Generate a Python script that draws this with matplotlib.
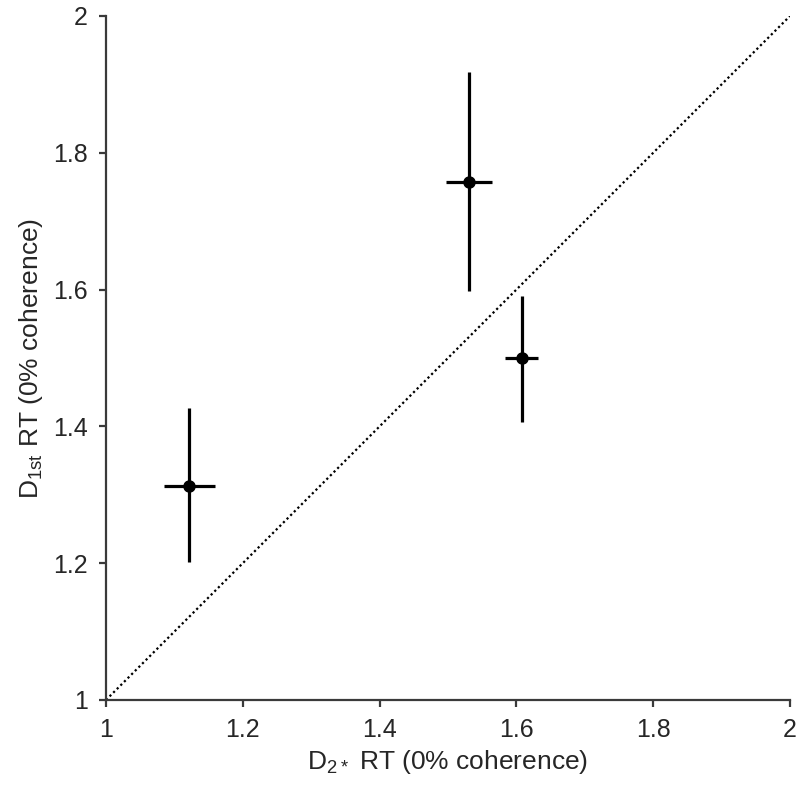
import numpy as np
import matplotlib.pyplot as plt

# ── Data ──────────────────────────────────────────────────────────────────────
x_rt = [1.122, 1.531, 1.608]
y_rt = [1.313, 1.758, 1.500]
x_lo = [1.085, 1.497, 1.583]
x_hi = [1.159, 1.564, 1.632]
y_lo = [1.202, 1.598, 1.407]
y_hi = [1.427, 1.918, 1.591]

x_ticks = [1, 1.2, 1.4, 1.6, 1.8, 2]
y_ticks = [1, 1.2, 1.4, 1.6, 1.8, 2]

plt.rcParams["font.family"] = ["Liberation Sans", "DejaVu Sans"]

fig = plt.figure(figsize=(8, 7.92), dpi=100)
ax = fig.add_axes([0.1325, 0.1162, 0.855, 0.8636])

# identity line
ax.plot([1, 2], [1, 2], color="black", linestyle=(0, (1, 1.3)), linewidth=1.6, zorder=1)

x_err = [np.array(x_rt) - np.array(x_lo), np.array(x_hi) - np.array(x_rt)]
y_err = [np.array(y_rt) - np.array(y_lo), np.array(y_hi) - np.array(y_rt)]
ax.errorbar(x_rt, y_rt, xerr=x_err, yerr=y_err, fmt="o", color="black",
            markersize=8, elinewidth=2.3, capsize=0, zorder=3)

ax.set_xlim(1, 2)
ax.set_ylim(1, 2)
ax.set_xticks(x_ticks)
ax.set_yticks(y_ticks)
ax.set_xticklabels([f"{t:g}" for t in x_ticks])
ax.set_yticklabels([f"{t:g}" for t in y_ticks])

for s in ["top", "right"]:
    ax.spines[s].set_visible(False)
for s in ["left", "bottom"]:
    ax.spines[s].set_linewidth(1.6)
    ax.spines[s].set_color("#3a3a3a")

ax.tick_params(direction="out", length=5, width=1.6, color="#3a3a3a",
               labelsize=18, labelcolor="#262626", pad=8)

ax.set_xlabel(r"D$_{\mathregular{2*}}$ RT (0% coherence)", fontsize=19, color="#262626", labelpad=4)
ax.set_ylabel(r"D$_{\mathregular{1st}}$ RT (0% coherence)", fontsize=19, color="#262626", labelpad=6)

plt.savefig("out.png", dpi=100)
